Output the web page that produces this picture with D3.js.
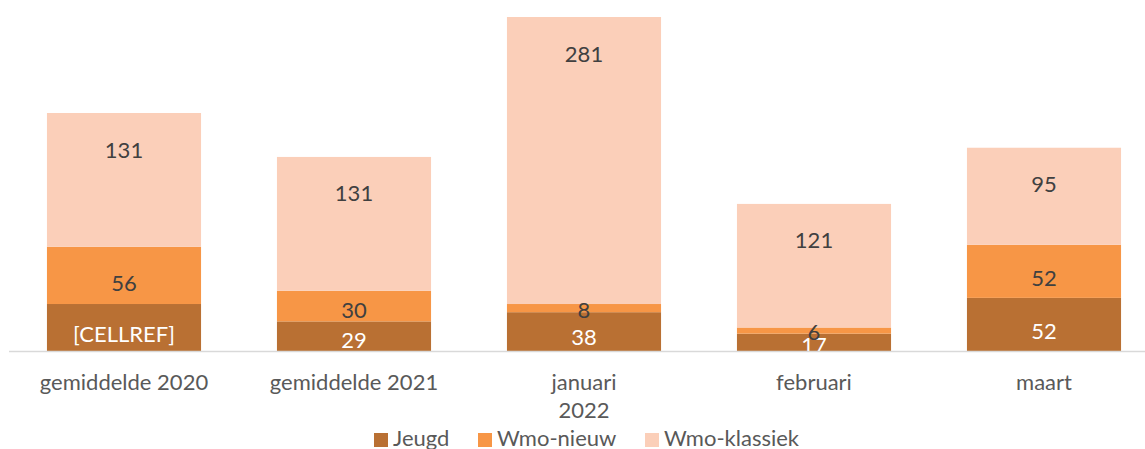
<!DOCTYPE html>
<html>
<head>
<meta charset="utf-8">
<script src="https://cdn.jsdelivr.net/npm/d3@7"></script>
<style>
  body { margin: 0; background: #fff; }
  text { font-family: Lato, "Open Sans", sans-serif; }
</style>
</head>
<body>
<svg id="chart"></svg>
<script>
const width = 1145;
const height = 449;

// categories and series
const categories = ["gemiddelde 2020", "gemiddelde 2021", "januari\n2022", "februari", "maart"];
const seriesNames = ["Jeugd", "Wmo-nieuw", "Wmo-klassiek"];
const jeugd = [46, 29, 38, 17, 52];
const wmoNieuw = [56, 30, 8, 6, 52];
const wmoKlassiek = [131, 131, 281, 121, 95];
// first Jeugd label shows a broken cell reference instead of its value
const jeugdLabels = ["[CELLREF]", "29", "38", "17", "52"];

const colors = ["#b97033", "#f79646", "#fbcfb9"];
const labelColors = ["#ffffff", "#404040", "#404040"];

const rows = categories.map((c, i) => ({
  cat: c,
  "Jeugd": jeugd[i],
  "Wmo-nieuw": wmoNieuw[i],
  "Wmo-klassiek": wmoKlassiek[i]
}));
const labelText = [jeugdLabels, wmoNieuw.map(String), wmoKlassiek.map(String)];

const svg = d3.select("#chart")
    .attr("width", width)
    .attr("height", height);

const baseline = 351;

const x = d3.scaleBand()
    .domain(categories)
    .range([9, 1159])
    .paddingInner(0.33)
    .paddingOuter(0.165);

const y = d3.scaleLinear()
    .domain([0, 327])
    .range([baseline, 17]);

const stacked = d3.stack().keys(seriesNames)(rows);

svg.append("defs").append("clipPath")
    .attr("id", "plot")
  .append("rect")
    .attr("x", 0).attr("y", 0)
    .attr("width", width).attr("height", baseline);

const plot = svg.append("g").attr("clip-path", "url(#plot)");

const layers = plot.selectAll(".layer")
    .data(stacked)
  .enter().append("g")
    .attr("class", "layer")
    .attr("fill", (d, i) => colors[i]);

layers.selectAll("rect")
    .data(d => d)
  .enter().append("rect")
    .attr("x", d => x(d.data.cat))
    .attr("width", x.bandwidth())
    .attr("y", d => y(d[1]))
    .attr("height", d => y(d[0]) - y(d[1]));

// axis line
svg.append("line")
    .attr("x1", 9).attr("x2", width)
    .attr("y1", baseline + 0.5).attr("y2", baseline + 0.5)
    .attr("stroke", "#d9d9d9")
    .attr("stroke-width", 1.5);

// data labels
stacked.forEach((layer, si) => {
  plot.selectAll(".lbl" + si)
      .data(layer)
    .enter().append("text")
      .attr("class", "lbl" + si)
      .attr("x", d => x(d.data.cat) + x.bandwidth() / 2)
      .attr("y", d => {
        const top = y(d[1]), bot = y(d[0]);
        if (si === 2) return top + 36;
        return (top + bot) / 2 + (bot - top) * 0.12;
      })
      .attr("text-anchor", "middle")
      .attr("dominant-baseline", "central")
      .attr("font-size", 22)
      .attr("fill", labelColors[si])
      .text((d, i) => labelText[si][i]);
});

// category labels
const xAxis = svg.append("g");
categories.forEach(c => {
  const t = xAxis.append("text")
      .attr("x", x(c) + x.bandwidth() / 2)
      .attr("y", 390)
      .attr("text-anchor", "middle")
      .attr("font-size", 22)
      .attr("fill", "#595959");
  c.split("\n").forEach((line, j) => {
    t.append("tspan")
        .attr("x", x(c) + x.bandwidth() / 2)
        .attr("dy", j === 0 ? 0 : 28)
        .text(line);
  });
});

// legend
const legendX = [374, 478, 645];
const legend = svg.append("g");
seriesNames.forEach((name, i) => {
  legend.append("rect")
      .attr("x", legendX[i]).attr("y", 433)
      .attr("width", 14).attr("height", 14)
      .attr("fill", colors[i]);
  legend.append("text")
      .attr("x", legendX[i] + 19)
      .attr("y", 446)
      .attr("font-size", 22)
      .attr("fill", "#595959")
      .text(name);
});
</script>
</body>
</html>
